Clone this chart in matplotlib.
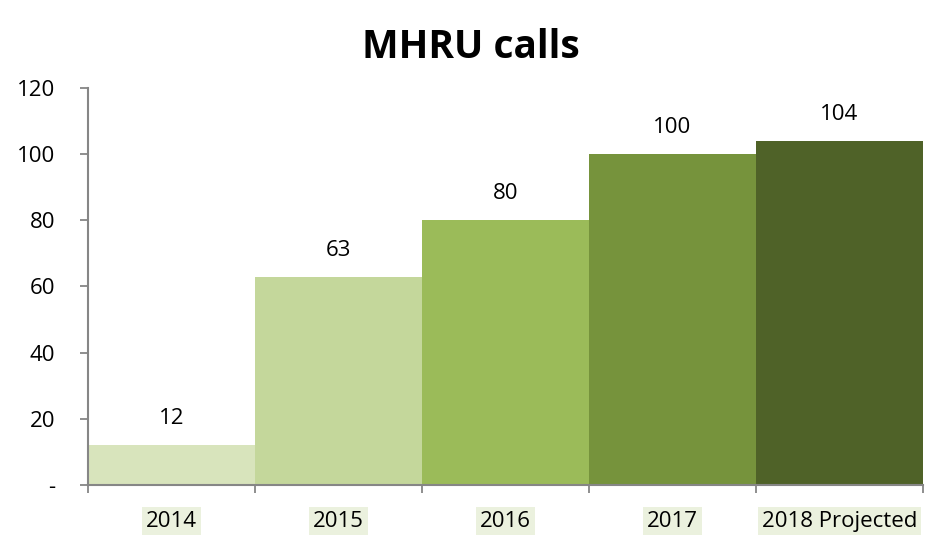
import matplotlib as mpl
import matplotlib.pyplot as plt
import numpy as np

# Data
years = ['2014', '2015', '2016', '2017', '2018 Projected']
calls = [12, 63, 80, 100, 104]
ytick_vals = [0, 20, 40, 60, 80, 100, 120]
ytick_lbls = ['-', '20', '40', '60', '80', '100', '120']

clrs = ['#D8E4BC', '#C4D79B', '#9BBB59', '#76933C', '#4F6228']

mpl.rcParams['font.family'] = ['Open Sans', 'DejaVu Sans']

fig = plt.figure(figsize=(9.29, 5.35), dpi=100)
ax = fig.add_axes([0.0947, 0.0935, 0.8988, 0.742])

x = np.arange(len(years))
ax.bar(x, calls, width=1.0, color=clrs, edgecolor='none')

# value labels above bars
for xi, v in zip(x, calls):
    ax.annotate(str(v), (xi, v), xytext=(0, 19), textcoords='offset points',
                ha='center', va='center', fontsize=16)

ax.set_xlim(-0.5, len(years) - 0.5)
ax.set_ylim(0, 120)

ax.set_yticks(ytick_vals)
ax.set_yticklabels(ytick_lbls, fontsize=16)
ax.set_xticks(x)
ax.set_xticklabels(years, fontsize=16)
ax.set_xticks(np.arange(-0.5, len(years)), minor=True)
ax.tick_params(axis='x', which='major', length=0, pad=19)
ax.tick_params(axis='x', which='minor', length=6, width=1.3, color='#868686')
ax.tick_params(axis='y', length=6, width=1.3, color='#868686', pad=17.5)

for lbl in ax.get_xticklabels():
    lbl.set_bbox(dict(facecolor='#EBF1DE', edgecolor='none', pad=3))

for s in ['top', 'right']:
    ax.spines[s].set_visible(False)
for s in ['left', 'bottom']:
    ax.spines[s].set_color('#868686')
    ax.spines[s].set_linewidth(1.5)

fig.text(0.507, 0.912, 'MHRU calls', fontsize=28, fontweight='bold',
         ha='center', va='center')

fig.savefig('out.png', dpi=100)
